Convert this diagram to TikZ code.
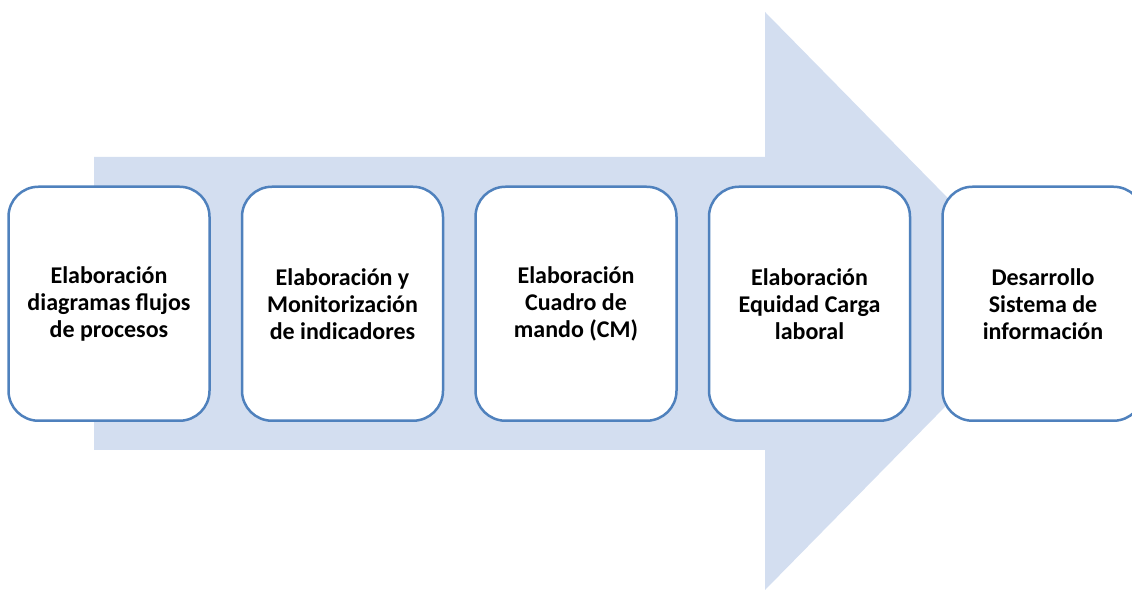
\documentclass[tikz,border=0pt]{standalone}
\usepackage{fontspec}
\setmainfont{Carlito}
\definecolor{arrowfill}{HTML}{D3DEF0}
\definecolor{boxline}{HTML}{4F81BD}
\begin{document}
\begin{tikzpicture}[x=1pt,y=1pt,
  stepbox/.style={draw=boxline, line width=2.5pt, fill=white, rounded corners=30pt,
    minimum width=201pt, minimum height=234pt, inner sep=0pt,
    align=center, font=\fontsize{24}{27}\selectfont\bfseries}]
\useasboundingbox (0,0) rectangle (1132,591);
\clip (0,0) rectangle (1132,591);
% big arrow (y = 591 - pixel y)
\fill[arrowfill] (94,434) -- (765,434) -- (765,579) -- (1049,290) -- (765,1) -- (765,141) -- (94,141) -- cycle;
\node[stepbox] (b1) at (109,287.25) {Elaboración\\diagramas flujos\\de procesos};
\node[stepbox] (b2) at (342.5,287.25) {Elaboración y\\Monitorización\\de indicadores};
\node[stepbox] (b3) at (576,287.25) {Elaboración\\Cuadro de\\mando (CM)};
\node[stepbox] (b4) at (809.5,287.25) {Elaboración\\Equidad Carga\\laboral};
\node[stepbox] (b5) at (1043,287.25) {Desarrollo\\Sistema de\\información};
\end{tikzpicture}
\end{document}
